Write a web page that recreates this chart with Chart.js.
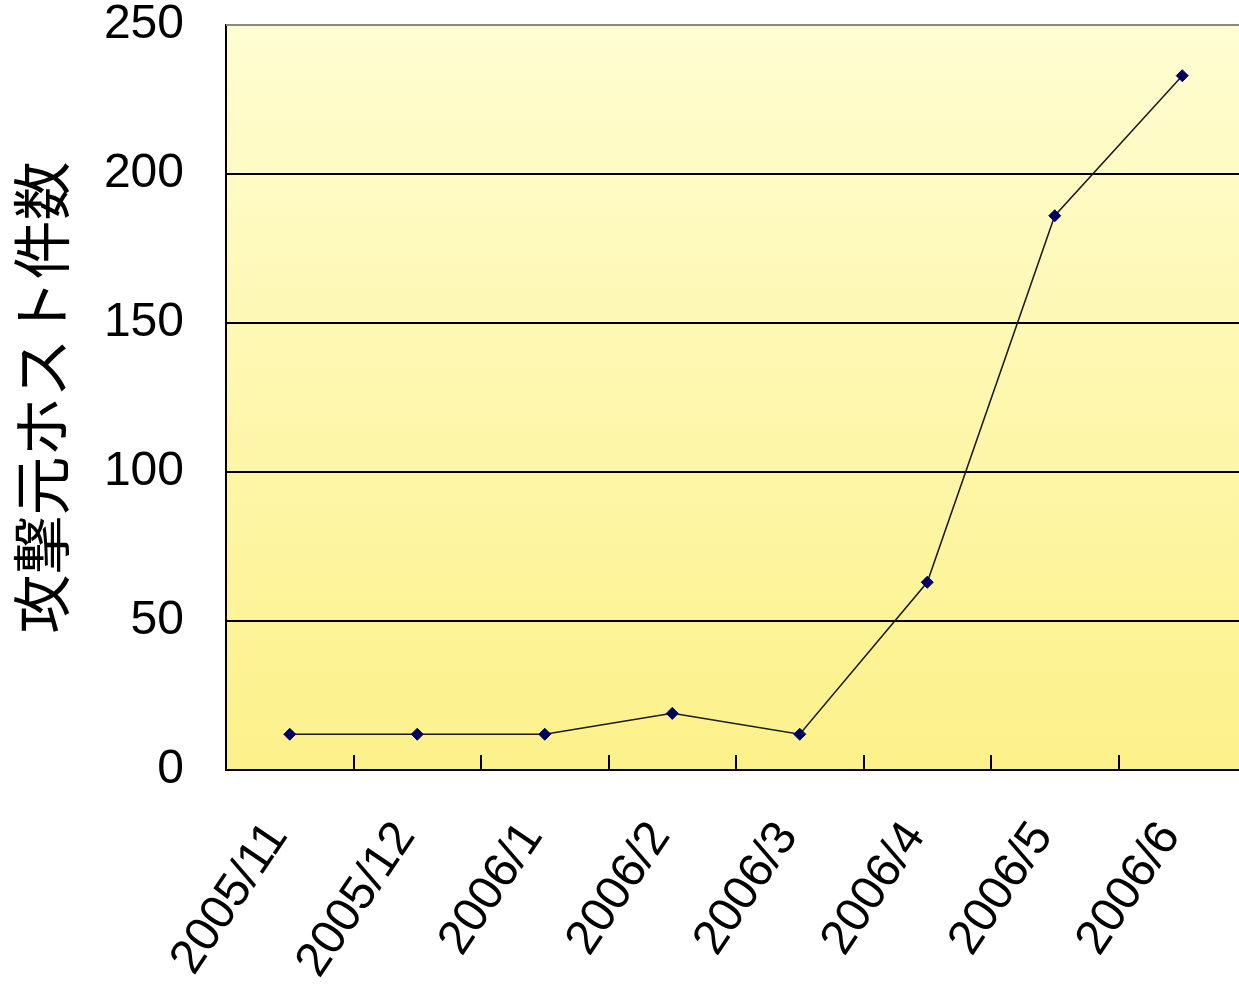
<!DOCTYPE html>
<html>
<head>
<meta charset="utf-8">
<script src="https://cdn.jsdelivr.net/npm/chart.js@4/dist/chart.umd.min.js"></script>
<style>
  html, body { margin: 0; padding: 0; background: #ffffff; overflow: hidden; }
  #wrap { position: relative; width: 1253px; height: 986px; }
</style>
</head>
<body>
<div id="wrap"><canvas id="c"></canvas></div>
<script>
// Monthly count of attacking source hosts
const months = ['2005/11', '2005/12', '2006/1', '2006/2', '2006/3', '2006/4', '2006/5', '2006/6'];
const hostCounts = [12, 12, 12, 19, 12, 63, 186, 233];
const yTickValues = [0, 50, 100, 150, 200, 250];
const yTitle = '攻撃元ホスト件数';

// Pale-yellow vertical gradient behind the plot, plus the grey top frame
const plotBackground = {
  id: 'plotBackground',
  beforeDraw(chart) {
    const { ctx, chartArea: a } = chart;
    const g = ctx.createLinearGradient(0, a.top, 0, a.bottom);
    g.addColorStop(0, '#fffdd2');
    g.addColorStop(1, '#fcf18a');
    ctx.save();
    ctx.fillStyle = g;
    ctx.fillRect(a.left, a.top, a.right - a.left, a.bottom - a.top);
    ctx.restore();
  },
  afterDraw(chart) {
    const { ctx, chartArea: a, scales } = chart;
    const x = scales.x;
    ctx.save();
    // top frame
    ctx.strokeStyle = '#8a8a7a';
    ctx.lineWidth = 2;
    ctx.beginPath();
    ctx.moveTo(a.left, a.top);
    ctx.lineTo(a.right, a.top);
    ctx.stroke();
    // short inward tick marks between categories
    ctx.strokeStyle = '#000000';
    ctx.lineWidth = 2;
    for (let i = 0; i < months.length - 1; i++) {
      const px = Math.round((x.getPixelForValue(i) + x.getPixelForValue(i + 1)) / 2);
      ctx.beginPath();
      ctx.moveTo(px, a.bottom);
      ctx.lineTo(px, a.bottom - 15);
      ctx.stroke();
    }
    ctx.restore();
  }
};

function noScalePadding(s) {
  s.paddingTop = 0;
  s.paddingBottom = 0;
  s.paddingLeft = 0;
  s.paddingRight = 0;
}

new Chart(document.getElementById('c'), {
  type: 'line',
  data: {
    labels: months,
    datasets: [{
      data: hostCounts,
      borderColor: '#1a1a1a',
      borderWidth: 1.5,
      tension: 0,
      pointStyle: 'rectRot',
      pointRadius: 6,
      pointHoverRadius: 6,
      pointBackgroundColor: '#000060',
      pointBorderColor: '#000060',
      pointBorderWidth: 1
    }]
  },
  options: {
    responsive: true,
    maintainAspectRatio: false,
    animation: false,
    events: [],
    layout: { padding: { top: 25, right: 0, left: 0, bottom: 0 } },
    plugins: { legend: { display: false }, tooltip: { enabled: false } },
    scales: {
      x: {
        offset: true,
        afterFit(s) { s.height = 216; noScalePadding(s); },
        grid: { display: false, drawTicks: false },
        border: { display: true, color: '#000000', width: 2 },
        ticks: {
          autoSkip: false,
          minRotation: 56,
          maxRotation: 56,
          padding: 42,
          labelOffset: -12,
          color: '#000000',
          font: { family: "'Liberation Sans', Arial, sans-serif", size: 48 }
        }
      },
      y: {
        min: 0,
        max: 250,
        afterFit(s) { s.width = 226; noScalePadding(s); },
        afterBuildTicks(s) { s.ticks = yTickValues.map(v => ({ value: v })); },
        grid: {
          drawTicks: false,
          lineWidth: 2,
          color: ctx => (ctx.tick && (ctx.tick.value === 0 || ctx.tick.value === 250)) ? 'rgba(0,0,0,0)' : '#000000'
        },
        border: { display: true, color: '#000000', width: 2 },
        ticks: {
          padding: 42,
          color: '#000000',
          font: { family: "'Liberation Sans', Arial, sans-serif", size: 48 }
        },
        title: {
          display: true,
          text: yTitle,
          color: '#000000',
          padding: { top: 6, bottom: 4 },
          font: { family: "'Noto Sans CJK JP', sans-serif", size: 59, weight: 'normal' }
        }
      }
    }
  },
  plugins: [plotBackground]
});
</script>
</body>
</html>
